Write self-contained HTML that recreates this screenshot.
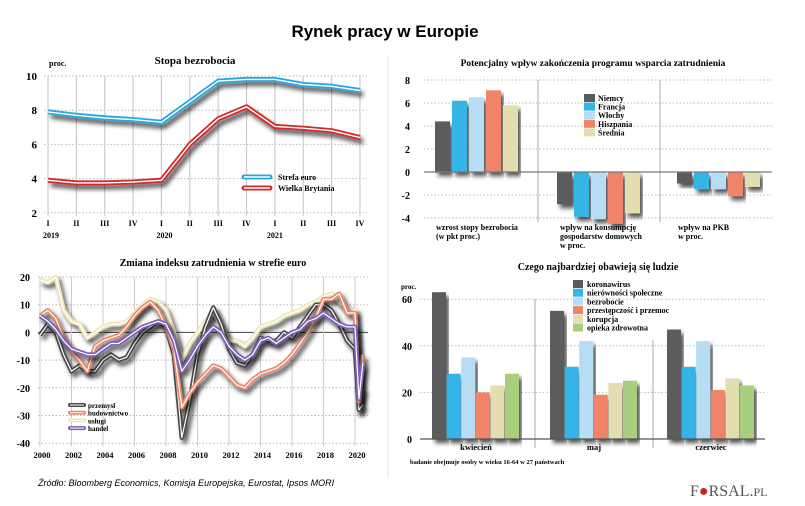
<!DOCTYPE html>
<html><head><meta charset="utf-8">
<style>
html,body{margin:0;padding:0;background:#fff;}
svg{display:block;font-family:"Liberation Serif","DejaVu Serif",serif;}
</style></head>
<body>
<svg id="s" width="805" height="506" viewBox="0 0 805 506" xmlns="http://www.w3.org/2000/svg">
<defs>
<filter id="sh" x="-20%" y="-20%" width="140%" height="160%"><feGaussianBlur in="SourceAlpha" stdDeviation="2.5"/><feOffset dx="3" dy="4" result="b"/><feComponentTransfer><feFuncA type="linear" slope="0.7"/></feComponentTransfer><feMerge><feMergeNode/><feMergeNode in="SourceGraphic"/></feMerge></filter>
</defs>
<text x="385" y="37" text-anchor="middle" font-family="Liberation Sans, sans-serif" font-weight="bold" font-size="17">Rynek pracy w Europie</text>
<line x1="388" y1="55" x2="388" y2="478" stroke="#e6e6e6" stroke-width="1"/>
<g id="p1"></g>
<g id="p2"></g>
<g id="p3"></g>
<g id="p4"></g>
<text x="38" y="486" font-family="Liberation Sans, sans-serif" font-style="italic" font-size="9">Źródło:  Bloomberg Economics, Komisja Europejska, Eurostat, Ipsos MORI</text>
<text x="690" y="496" font-family="Liberation Serif, serif" font-size="16" fill="#555">F<tspan fill="#c22">●</tspan>RSAL.<tspan font-size="12">PL</tspan></text>
</svg>
<script>
// Panel 1 data
const p1Quarters=["I","II","III","IV","I","II","III","IV","I","II","III","IV"];
const p1Years=["2019","2020","2021"];
const p1Ticks=[2,4,6,8,10];
const euroArea=[7.9,7.7,7.55,7.45,7.3,8.5,9.7,9.8,9.8,9.5,9.4,9.15];
const unitedKingdom=[3.9,3.75,3.75,3.8,3.9,6.0,7.5,8.2,7.05,6.95,6.8,6.4];
// Panel 2 data
const p2Groups=["wzrost stopy bezrobocia|(w pkt proc.)","wpływ na konsumpcję|gospodarstw domowych|w proc.","wpływ na PKB|w proc."];
const p2Countries=["Niemcy","Francja","Włochy","Hiszpania","Średnia"];
const p2Ticks=[-4,-2,0,2,4,6,8];
const p2Niemcy=[4.4,-2.8,-1.0];
const p2Francja=[6.2,-3.9,-1.5];
const p2Wlochy=[6.5,-4.1,-1.5];
const p2Hiszpania=[7.1,-4.5,-2.1];
const p2Srednia=[5.8,-3.6,-1.3];
// Panel 3 data
const p3Time=[2000,2000.5,2001,2001.5,2002,2002.5,2003,2003.5,2004,2004.5,2005,2005.5,2006,2006.5,2007,2007.5,2008,2008.5,2009,2009.5,2010,2010.5,2011,2011.5,2012,2012.5,2013,2013.5,2014,2014.5,2015,2015.5,2016,2016.5,2017,2017.5,2018,2018.5,2019,2019.5,2020,2020.25,2020.5];
const p3Ticks=[-40,-30,-20,-10,0,10,20];
const p3XTicks=[2000,2002,2004,2006,2008,2010,2012,2014,2016,2018,2020];
const przemysl=[-1,3,0,-8,-14,-12,-14,-14,-10,-8,-10,-9,-4,0,2,4,2,-8,-38,-25,-8,2,9,3,-6,-11,-12,-8,-2,-3,-3,0,-2,2,6,10,10,8,3,-3,-6,-28,-26];
const budownictwo=[6,8,5,-2,-7,-10,-14,-5,-3,-2,-1,2,6,9,11,8,2,-6,-27,-22,-18,-15,-12,-13,-16,-19,-20,-17,-15,-14,-13,-11,-8,-4,0,5,12,12,14,7,7,-25,-8];
const uslugi=[19,18,20,8,4,3,-2,0,2,3,3,4,7,10,12,11,8,0,-10,-4,0,4,8,2,-3,-3,-5,-2,2,3,4,6,7,8,10,11,13,14,11,9,8,-28,-20];
const handel=[6,4,1,-3,-6,-7,-8,-8,-6,-4,-4,-2,0,2,3,4,3,-3,-14,-10,-5,-1,2,0,-5,-8,-10,-8,-3,-2,-4,-2,0,1,4,5,7,5,3,2,2,-24,-11];
// Panel 4 data
const p4Months=["kwiecień","maj","czerwiec"];
const p4Cats=["koronawirus","nierówności społeczne","bezrobocie","przestępczość i przemoc","korupcja","opieka zdrowotna"];
const p4Ticks=[0,20,40,60];
const koronawirus=[63,55,47];
const nierownosci=[28,31,31];
const bezrobocie=[35,42,42];
const przestepczosc=[20,19,21];
const korupcja=[23,24,26];
const opieka=[28,25,23];

const NS="http://www.w3.org/2000/svg";
function mk(parent,tag,attrs,txt){const e=document.createElementNS(NS,tag);for(const k in attrs)e.setAttribute(k,attrs[k]);if(txt!==undefined)e.textContent=txt;parent.appendChild(e);return e;}

// ---------- Panel 1 ----------
(function(){
const g=document.getElementById('p1');
const x=i=>48+i*28.36, y=v=>76+(10-v)*17.1;
let t=mk(g,'text',{x:195,y:64,'text-anchor':'middle','font-weight':'bold','font-size':11},'Stopa bezrobocia');

t=mk(g,'text',{x:49,y:66,'font-weight':'bold','font-size':8},'proc.');

p1Ticks.forEach(v=>{
 const l=mk(g,'line',{x1:44,x2:367,y1:y(v),y2:y(v),stroke:'#bbb','stroke-dasharray':'1.5,2'});
 
 const tt=mk(g,'text',{x:37,y:y(v)+4,'text-anchor':'end','font-weight':'bold','font-size':11},v);
 
});
p1Quarters.forEach((q,i)=>{
 const l=mk(g,'line',{x1:x(i),x2:x(i),y1:y(10),y2:y(2)+3,stroke:'#ccc','stroke-width':1.2});
 
 const tt=mk(g,'text',{x:x(i),y:226,'text-anchor':'middle','font-weight':'bold','font-size':8},q);
 
});
p1Years.forEach((yr,k)=>{
 const tt=mk(g,'text',{x:x(k*4)+(k==2?0:3),y:238,'text-anchor':'middle','font-weight':'bold','font-size':8},yr);
 
});
function series(vals,col,name){
 const d=vals.map((v,i)=>(i?'L':'M')+x(i).toFixed(1)+','+y(v).toFixed(1)).join('');
 const gg=mk(g,'g',{filter:'url(#sh)'});
 
 mk(gg,'path',{d:d,fill:'none',stroke:col,'stroke-width':5,'stroke-linejoin':'round'});
 mk(gg,'path',{d:d,fill:'none',stroke:'#fff','stroke-width':1.4,'stroke-linejoin':'round'});
}
series(euroArea,'#2aa6df','euro-area-line');
series(unitedKingdom,'#d42a2a','uk-line');
[['Strefa euro','#2aa6df'],['Wielka Brytania','#d42a2a']].forEach((e,i)=>{
 const gg=mk(g,'g',{});
 
 mk(gg,'line',{x1:244,x2:270,y1:177+i*11,y2:177+i*11,stroke:e[1],'stroke-width':5,'stroke-linecap':'round'});
 mk(gg,'line',{x1:244,x2:270,y1:177+i*11,y2:177+i*11,stroke:'#fff','stroke-width':1.4});
 mk(gg,'text',{x:278,y:180+i*11,'font-weight':'bold','font-size':8},e[0]);
});
})();

// ---------- Panel 2 ----------
(function(){
const g=document.getElementById('p2');
const y=v=>172-v*11.5;
const gx=[435,557,677], step=17, bw=15;
let t=mk(g,'text',{x:593,y:66,'text-anchor':'middle','font-weight':'bold','font-size':9.5},'Potencjalny wpływ zakończenia programu wsparcia zatrudnienia');

p2Ticks.forEach(v=>{
 if(v!==0){const l=mk(g,'line',{x1:424,x2:772,y1:y(v),y2:y(v),stroke:'#bbb','stroke-dasharray':'1.5,2'});
 }
 const tt=mk(g,'text',{x:410,y:y(v)+4,'text-anchor':'end','font-weight':'bold','font-size':10},v);
 
});
[538,660].forEach(sx=>{const l=mk(g,'line',{x1:sx,x2:sx,y1:80,y2:222,stroke:'#aaa'});
 });
const series=[p2Niemcy,p2Francja,p2Wlochy,p2Hiszpania,p2Srednia];
const cols=['#5b5b5b','#35b4e8','#b6ddf4','#ef8468','#e4ddb0'];
series.forEach((arr,s)=>{arr.forEach((v,gi)=>{
 const r=mk(g,'rect',{x:gx[gi]+s*step,y:Math.min(y(v),y(0)),width:bw,height:Math.abs(y(v)-y(0)),fill:cols[s],filter:'url(#sh)'});
 
});});
const z=mk(g,'line',{x1:424,x2:772,y1:y(0),y2:y(0),stroke:'#777','stroke-width':1.2});

p2Countries.forEach((c,i)=>{
 const gg=mk(g,'g',{});
 
 mk(gg,'rect',{x:584,y:94+i*8.6,width:11,height:8,fill:cols[i]});
 mk(gg,'text',{x:598,y:101+i*8.6,'font-weight':'bold','font-size':8},c);
});
const lx=[436,560,678];
p2Groups.forEach((lab,gi)=>{lab.split('|').forEach((ln,k)=>{
 const tt=mk(g,'text',{x:lx[gi],y:230+k*9,'font-weight':'bold','font-size':8},ln);
 
});});
})();

// ---------- Panel 3 ----------
(function(){
const g=document.getElementById('p3');
const x=t=>40+(t-2000)*15.75, y=v=>277+(20-v)*2.77;
let t=mk(g,'text',{x:213,y:266,'text-anchor':'middle','font-weight':'bold','font-size':10},'Zmiana indeksu zatrudnienia w strefie euro');

p3Ticks.forEach(v=>{
 const l=mk(g,'line',{x1:38,x2:368,y1:y(v),y2:y(v),stroke:v===0?'#444':'#bbb','stroke-dasharray':v===0?'none':'1.5,2'});
 
 const tt=mk(g,'text',{x:30,y:y(v)+4,'text-anchor':'end','font-weight':'bold','font-size':10},v);
 
});
p3XTicks.forEach(v=>{
 const l=mk(g,'line',{x1:x(v),x2:x(v),y1:y(20),y2:y(-40)+3,stroke:'#ccc'});
 
 const tt=mk(g,'text',{x:x(v)+2,y:458,'text-anchor':'middle','font-weight':'bold','font-size':8.5},v);
 
});
function series(vals,col,name){
 const d=vals.map((v,i)=>(i?'L':'M')+x(p3Time[i]).toFixed(1)+','+y(v).toFixed(1)).join('');
 const gg=mk(g,'g',{filter:'url(#sh)'});
 
 mk(gg,'path',{d:d,fill:'none',stroke:col,'stroke-width':4.5,'stroke-linejoin':'round'});
 mk(gg,'path',{d:d,fill:'none',stroke:'#fff','stroke-width':1.2,'stroke-linejoin':'round'});
}
series(uslugi,'#efe6b6','uslugi-line');
series(przemysl,'#4a4a4a','przemysl-line');
series(budownictwo,'#e8876a','budownictwo-line');
series(handel,'#7a5fb4','handel-line');
[['przemysł','#4a4a4a'],['budownictwo','#e8876a'],['usługi','#efe6b6'],['handel','#7a5fb4']].forEach((e,i)=>{
 const gg=mk(g,'g',{});
 
 mk(gg,'line',{x1:70,x2:84,y1:405+i*7.7,y2:405+i*7.7,stroke:e[1],'stroke-width':4,'stroke-linecap':'round'});
 mk(gg,'line',{x1:70,x2:84,y1:405+i*7.7,y2:405+i*7.7,stroke:'#fff','stroke-width':1});
 mk(gg,'text',{x:88,y:408+i*7.7,'font-weight':'bold','font-size':7},e[0]);
});
})();

// ---------- Panel 4 ----------
(function(){
const g=document.getElementById('p4');
const y=v=>439-v*2.33;
const gx=[432,550,667], step=14.6, bw=14;
let t=mk(g,'text',{x:598,y:270,'text-anchor':'middle','font-weight':'bold','font-size':10},'Czego najbardziej obawieją się ludzie');

t=mk(g,'text',{x:401,y:289,'font-weight':'bold','font-size':7},'proc.');

p4Ticks.forEach(v=>{
 if(v!==0){const l=mk(g,'line',{x1:420,x2:765,y1:y(v),y2:y(v),stroke:'#bbb','stroke-dasharray':'1.5,2'});
 }
 const tt=mk(g,'text',{x:412,y:y(v)+4,'text-anchor':'end','font-weight':'bold','font-size':10},v);
 
});
[[535,299],[653,340]].forEach(s=>{const l=mk(g,'line',{x1:s[0],x2:s[0],y1:s[1],y2:448,stroke:'#aaa'});
 });
const series=[koronawirus,nierownosci,bezrobocie,przestepczosc,korupcja,opieka];
const cols=['#5b5b5b','#35b4e8','#b6ddf4','#ef8468','#e4ddb0','#a8cf7e'];
series.forEach((arr,s)=>{arr.forEach((v,gi)=>{
 const r=mk(g,'rect',{x:gx[gi]+s*step,y:y(v),width:bw,height:y(0)-y(v),fill:cols[s],filter:'url(#sh)'});
 
});});
const z=mk(g,'line',{x1:420,x2:765,y1:y(0),y2:y(0),stroke:'#555','stroke-width':1.2});

p4Cats.forEach((c,i)=>{
 const gg=mk(g,'g',{});
 
 mk(gg,'rect',{x:573,y:280+i*8.7,width:10,height:8,fill:cols[i]});
 mk(gg,'text',{x:587,y:287+i*8.7,'font-weight':'bold','font-size':8},c);
});
p4Months.forEach((m,gi)=>{
 const tt=mk(g,'text',{x:gx[gi]+44,y:450,'text-anchor':'middle','font-weight':'bold','font-size':8.5},m);
 
});
t=mk(g,'text',{x:410,y:464,'font-weight':'bold','font-size':6.5},'badanie obejmuje osoby w wieku 16-64 w 27 państwach');

})();
</script>
</body></html>
